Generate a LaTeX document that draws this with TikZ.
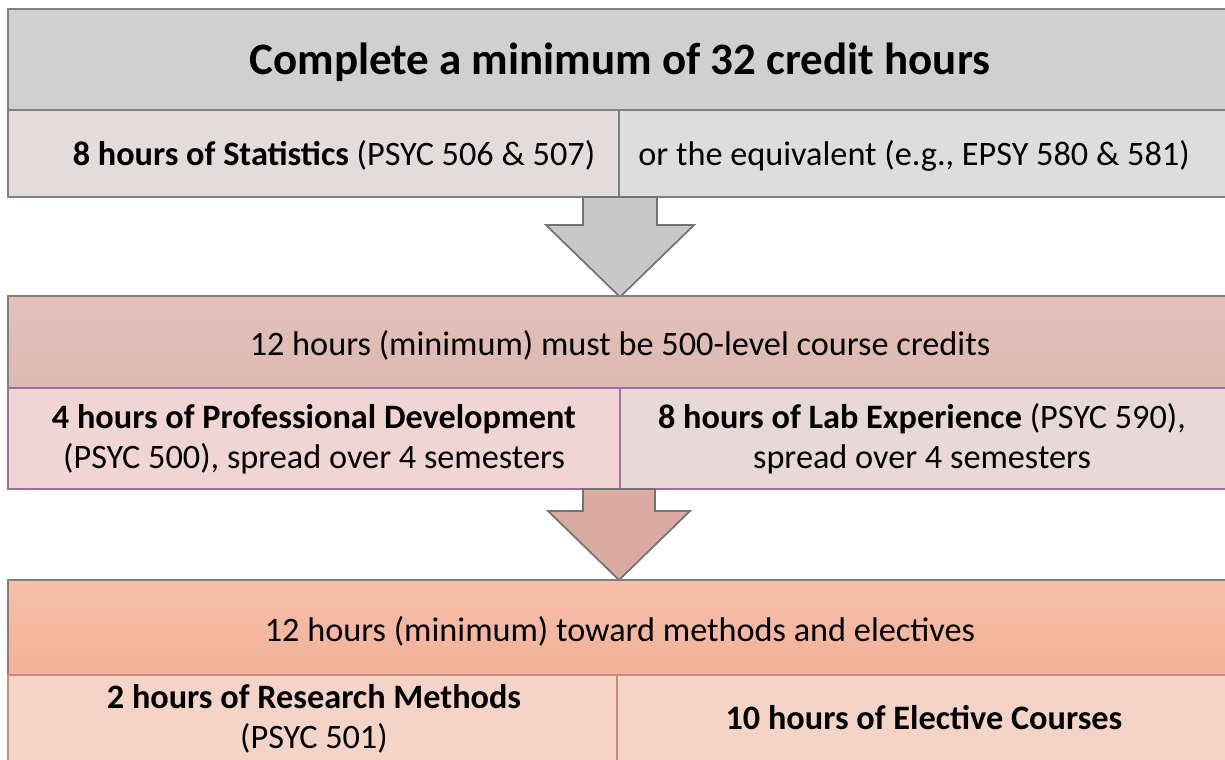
\documentclass[tikz,border=0pt]{standalone}
\usepackage{fontspec}
\setmainfont{Carlito}
\usetikzlibrary{calc}

\definecolor{headgray}{RGB}{208,208,208}
\definecolor{statleft}{RGB}{227,220,220}
\definecolor{statright}{RGB}{221,221,221}
\definecolor{arrowgray}{RGB}{200,200,200}
\definecolor{midheadtop}{RGB}{226,194,187}
\definecolor{midheadbot}{RGB}{220,184,176}
\definecolor{devleft}{RGB}{240,213,211}
\definecolor{labright}{RGB}{233,216,216}
\definecolor{arrowrose}{RGB}{217,171,162}
\definecolor{botheadtop}{RGB}{246,192,170}
\definecolor{botheadbot}{RGB}{242,176,152}
\definecolor{methrow}{RGB}{245,212,200}
\definecolor{lilac}{RGB}{160,110,160}

\tikzset{
  bodytext/.style={font=\fontsize{19.5pt}{22.7pt}\selectfont, align=center, inner sep=0pt},
  titletext/.style={font=\fontsize{25.6pt}{30pt}\selectfont\bfseries, inner sep=0pt},
  bandline/.style={draw=black!50, line width=1pt},
  rowline/.style={draw=lilac, line width=0.6pt},
  blockarrow/.style={draw=black!55, line width=1pt, line join=miter}
}

\begin{document}
\begin{tikzpicture}[x=0.02cm,y=-0.02cm]
\useasboundingbox (0,0) rectangle (1225,760);
%\draw[step=50,gray,very thin] (0,0) grid (1225,760);
% top band
\fill[headgray] (8,9) rectangle (1235,110);
\fill[statleft] (8,110) rectangle (619,197);
\fill[statright] (619,110) rectangle (1235,197);
\draw[bandline] (8,9) rectangle (1235,197);
\draw[bandline] (8,110) -- (1235,110);
\draw[bandline] (619,110) -- (619,197);
\node[titletext, anchor=base] (total) at (620,75) {Complete a minimum of 32 credit hours};
\node[bodytext, anchor=base] (stats) at (334,166) {\textbf{8 hours of Statistics} (PSYC 506 \& 507)};
\node[bodytext, anchor=base] (equiv) at (914,166) {or the equivalent (e.g., EPSY 580 \& 581)};
% first arrow
\coordinate (dropA) at (620,197);
\filldraw[blockarrow, fill=arrowgray] (dropA) ++(-37,0) -- ++(0,28) -- ++(-37,0)
  -- ++(74,72) -- ++(74,-72) -- ++(-37,0) -- ++(0,-28) -- cycle;
% middle band
\shade[top color=midheadtop, bottom color=midheadbot] (8,296) rectangle (1235,388);
\draw[bandline] (8,296) rectangle (1235,388);
\fill[devleft] (8,388) rectangle (620,489);
\fill[labright] (620,388) rectangle (1235,489);
\draw[rowline] (8,388) rectangle (1235,489);
\draw[rowline] (620,388) -- (620,489);
\node[bodytext, anchor=base] (level) at (620,356) {12 hours (minimum) must be 500-level course credits};
\node[bodytext] (profdev) at (314,439) {\textbf{4 hours of Professional Development}\\(PSYC 500), spread over 4 semesters};
\node[bodytext] (labexp) at (922,439) {\textbf{8 hours of Lab Experience} (PSYC 590),\\spread over 4 semesters};
% second arrow
\coordinate (dropB) at (619,489);
\filldraw[blockarrow, fill=arrowrose] (dropB) ++(-36,0) -- ++(0,22) -- ++(-35,0)
  -- ++(71,69) -- ++(71,-69) -- ++(-35,0) -- ++(0,-22) -- cycle;
% bottom band
\shade[top color=botheadtop, bottom color=botheadbot] (8,580) rectangle (1235,675);
\draw[bandline] (8,580) rectangle (1235,675);
\fill[methrow] (8,675) rectangle (1235,770);
\draw[draw=botheadbot!80!black, line width=0.6pt] (8,675) rectangle (1235,770);
\draw[draw=botheadbot!80!black, line width=0.6pt] (617,675) -- (617,770);
\node[bodytext, anchor=base] (methods) at (620,641) {12 hours (minimum) toward methods and electives};
\node[bodytext] (resmeth) at (314,719) {\textbf{2 hours of Research Methods}\\(PSYC 501)};
\node[bodytext, anchor=base] (elective) at (924,729) {\textbf{10 hours of Elective Courses}};
\end{tikzpicture}
\end{document}
